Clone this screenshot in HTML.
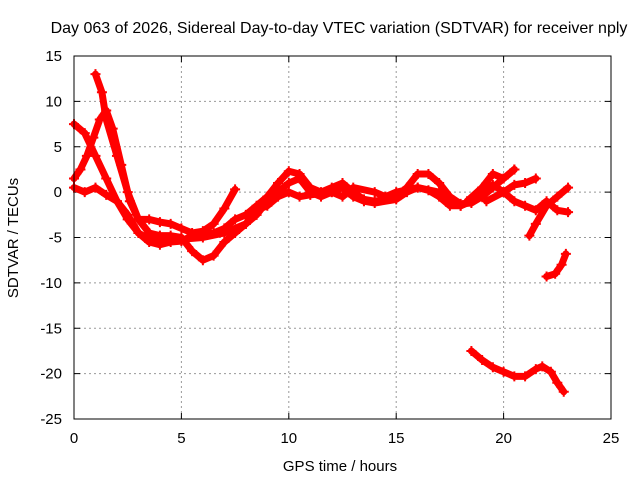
<!DOCTYPE html>
<html><head><meta charset="utf-8"><style>
body{margin:0;background:#fff}
svg{display:block;font-family:"Liberation Sans",sans-serif}
</style></head><body>
<svg id="chart" width="640" height="480" viewBox="0 0 640 480">
<text x="339" y="33" font-size="16" text-anchor="middle">Day 063 of 2026, Sidereal Day-to-day VTEC variation (SDTVAR) for receiver nply</text>
<text x="340" y="471" font-size="15" text-anchor="middle">GPS time / hours</text>
<text transform="translate(18,238) rotate(-90)" font-size="15" text-anchor="middle">SDTVAR / TECUs</text>
<g id="grid"></g><g id="ticks"></g><g id="series"></g>
<rect x="74" y="56" width="537" height="363" fill="none" stroke="#000" stroke-width="1"/>
</svg>
<script>
const xTicks=[0,5,10,15,20,25];
const yTicks=[15,10,5,0,-5,-10,-15,-20,-25];
const s1=[[0,7.5],[0.5,6.5],[1,4],[1.5,1.5],[2,-1],[2.5,-3],[3,-4.5],[3.5,-5.5],[4,-5.8],[4.5,-5.5],[5,-5.4],[5.5,-4.8],[6,-4.5],[6.5,-4.5],[7,-4],[7.5,-3],[8,-2.5],[8.5,-1.5],[9,-0.5],[9.5,1],[10,2.3],[10.5,2],[11,0.5],[11.5,0],[12,0.5],[12.5,1],[13,0],[13.5,-0.8],[14,-1],[14.5,-0.8],[15,-0.5],[15.5,0.5],[16,2],[16.5,2],[17,1],[17.5,-0.5],[18,-1.3],[18.5,-1.2],[19,-0.5],[19.5,0.5],[20,1.5],[20.5,2.5]];
const s2=[[1.0,13],[1.3,11],[1.5,8],[2,4],[2.5,0],[3,-3],[3.5,-4.5],[4,-4.8],[4.5,-4.8],[5,-5],[5.5,-6.5],[6,-7.5],[6.5,-7],[7,-5.5],[7.5,-4.5],[8,-3.5],[8.5,-2.5],[9,-1],[9.5,0],[10,1],[10.5,1.5],[11,0],[11.5,-0.5],[12,0],[12.5,0.5],[13,-0.5],[13.5,-1],[14,-1.2],[15,-0.8],[15.5,0],[16,0.5],[16.5,0.2],[17,-0.5],[17.5,-1.5],[18,-1.5],[18.5,-1],[19,0],[19.5,0.8],[20,0],[20.5,-1],[21,-1.5],[21.5,-2],[22,-1],[22.5,-2],[23,-2.2]];
const s3=[[0,1.5],[0.3,2.5],[0.6,4],[0.9,6],[1.2,8],[1.5,9.0],[1.8,7],[2.2,3],[2.6,-1],[3,-3],[3.5,-3],[4,-3.3],[4.5,-3.5],[5,-4],[5.5,-4.5],[6,-4.3],[6.5,-3.5],[7,-1.8],[7.5,0.3]];
const s4=[[0,0.5],[0.5,0],[1,0.5],[1.5,-0.3],[2,-1],[2.5,-2.5],[3,-4.5],[3.5,-5.2],[4,-5.3],[5,-5.2],[6,-5],[7,-4.5],[8,-3.5],[8.5,-2],[9,-1.5],[9.5,-0.5],[10,0],[10.5,-0.5],[11,-0.3],[12,0],[12.5,-0.5],[13,0.5],[14,0],[14.5,-0.5],[15,0],[16,0.5],[17,0],[18,-1.5],[18.5,-1]];
const s5=[[18.3,-1],[19,0.5],[19.5,2],[20,1.5],[20.5,2.5]];
const s6=[[19.2,-1],[20,0],[20.5,0.8],[21,1],[21.5,1.5]];
const s7=[[21.2,-4.8],[21.5,-3.5],[22,-1.5],[22.5,-0.5],[23,0.5]];
const s8=[[22.0,-9.3],[22.4,-9],[22.7,-8],[22.9,-6.8]];
const s9=[[18.5,-17.5],[19,-18.5],[19.5,-19.3],[20,-19.8],[20.5,-20.3],[21,-20.3],[21.5,-19.5],[21.8,-19.2],[22.2,-19.8],[22.5,-21],[22.8,-22]];
const seriesList=[s1,s2,s3,s4,s5,s6,s7,s8,s9];
const X0=74,X1=611,Y0=419,Y1=56;
function px(x){return X0+(x-0)/(25-0)*(X1-X0);}
function py(y){return Y0-(y+25)/(15+25)*(Y0-Y1);}
const NS="http://www.w3.org/2000/svg";
const grid=document.getElementById('grid'),ticks=document.getElementById('ticks'),ser=document.getElementById('series');
function mk(t,a,p){const e=document.createElementNS(NS,t);for(const k in a)e.setAttribute(k,a[k]);p.appendChild(e);return e;}
xTicks.forEach(v=>{
 const x=px(v);
 if(v>0&&v<25){const g=mk('line',{x1:x,x2:x,y1:Y1,y2:Y0,stroke:'#999','stroke-dasharray':'2,3'},grid);
 
 }
 mk('line',{x1:x,x2:x,y1:Y0,y2:Y0-6,stroke:'#000'},ticks);
 mk('line',{x1:x,x2:x,y1:Y1,y2:Y1+6,stroke:'#000'},ticks);
 const t=mk('text',{x:x,y:443,'font-size':15,'text-anchor':'middle'},ticks);t.textContent=v;
 
 
});
yTicks.forEach(v=>{
 const y=py(v);
 if(v>-25&&v<15){const g=mk('line',{x1:X0,x2:X1,y1:y,y2:y,stroke:'#999','stroke-dasharray':'2,3'},grid);
 
 }
 mk('line',{x1:X0,x2:X0+6,y1:y,y2:y,stroke:'#000'},ticks);
 mk('line',{x1:X1,x2:X1-6,y1:y,y2:y,stroke:'#000'},ticks);
 const t=mk('text',{x:62,y:y+5,'font-size':15,'text-anchor':'end'},ticks);t.textContent=v;
 
 
});
seriesList.forEach((s,i)=>{
 const pts=s.map(p=>px(p[0])+','+py(p[1])).join(' ');
 const l=mk('polyline',{points:pts,fill:'none',stroke:'#f00','stroke-width':7,'stroke-linejoin':'round','stroke-linecap':'round'},ser);
 
 
 s.forEach(p=>{const x=px(p[0]),y=py(p[1]);
  mk('path',{d:`M${x-5},${y}H${x+5}M${x},${y-5}V${y+5}`,stroke:'#f00','stroke-width':2},ser);});
});
</script>
</body></html>
